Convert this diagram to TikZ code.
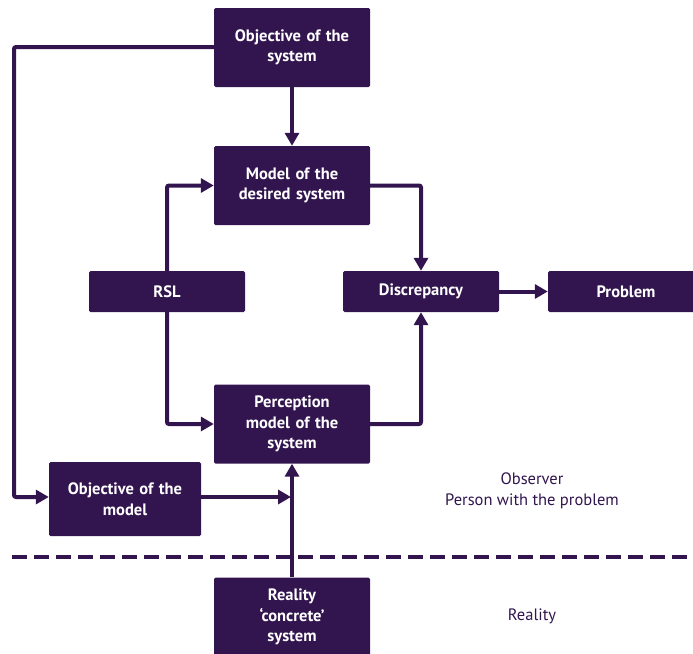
\documentclass[tikz,border=0pt]{standalone}
\usepackage{fontspec}
\setmainfont{PT Sans}
\usepackage{tikz}
\usetikzlibrary{arrows.meta}

\definecolor{plum}{HTML}{32154F}

\begin{document}
\begin{tikzpicture}[x=1pt,y=-1pt,
    box/.style={fill=plum, text=white, font=\bfseries\fontsize{16.5}{20.5}\selectfont,
        rounded corners=1.5pt, align=center, text width=150pt,
        minimum width=156pt, minimum height=79pt, inner sep=0pt},
    flat/.style={box, minimum height=41pt},
    link/.style={draw=plum, line width=4pt, rounded corners=2pt,
        -{Triangle[length=13pt,width=14pt]}},
    note/.style={text=plum, font=\fontsize{16.5}{21}\selectfont, align=center}]
  \useasboundingbox (0,0) rectangle (693,653);
  % boxes
  \node[box] (objsys) at (292,47.5) {Objective of the\\system};
  \node[box] (desired) at (292,185.5) {Model of the\\desired system};
  \node[flat] (rsl) at (167,291.5) {RSL};
  \node[flat] (discr) at (421,291.5) {Discrepancy};
  \node[flat] (problem) at (626,291.5) {Problem};
  \node[box] (percept) at (292,424) {Perception\\model of the\\system};
  \node[box, minimum width=152pt, minimum height=74pt] (objmod) at (125,499)
       {Objective of the\\model};
  \node[box] (reality) at (292,617) {Reality\\`concrete'\\system};
  % observer / reality split
  \draw[plum, line width=4pt, dash pattern=on 15pt off 7pt] (12,557) -- (693,557);
  \node[note] (observer) at (532,491) {Observer\\Person with the problem};
  \node[note] (real) at (532,616) {Reality};
  % connectors
  \coordinate (join) at (291,497);
  \draw[link] (objsys) -- (desired);
  \draw[link] (objsys.west |- 0,47) -| (14,497) -- (objmod.west |- 0,497);
  \draw[link] (rsl.north) |- (desired.west);
  \draw[link] (rsl.south) |- (percept.west);
  \draw[link] (desired.east) -| (discr.north);
  \draw[link] (percept.east) -| (discr.south);
  \draw[link] (discr) -- (problem);
  \draw[link] (objmod.east |- join) -- (join);
  \draw[link] (reality) -- (percept);
\end{tikzpicture}
\end{document}
